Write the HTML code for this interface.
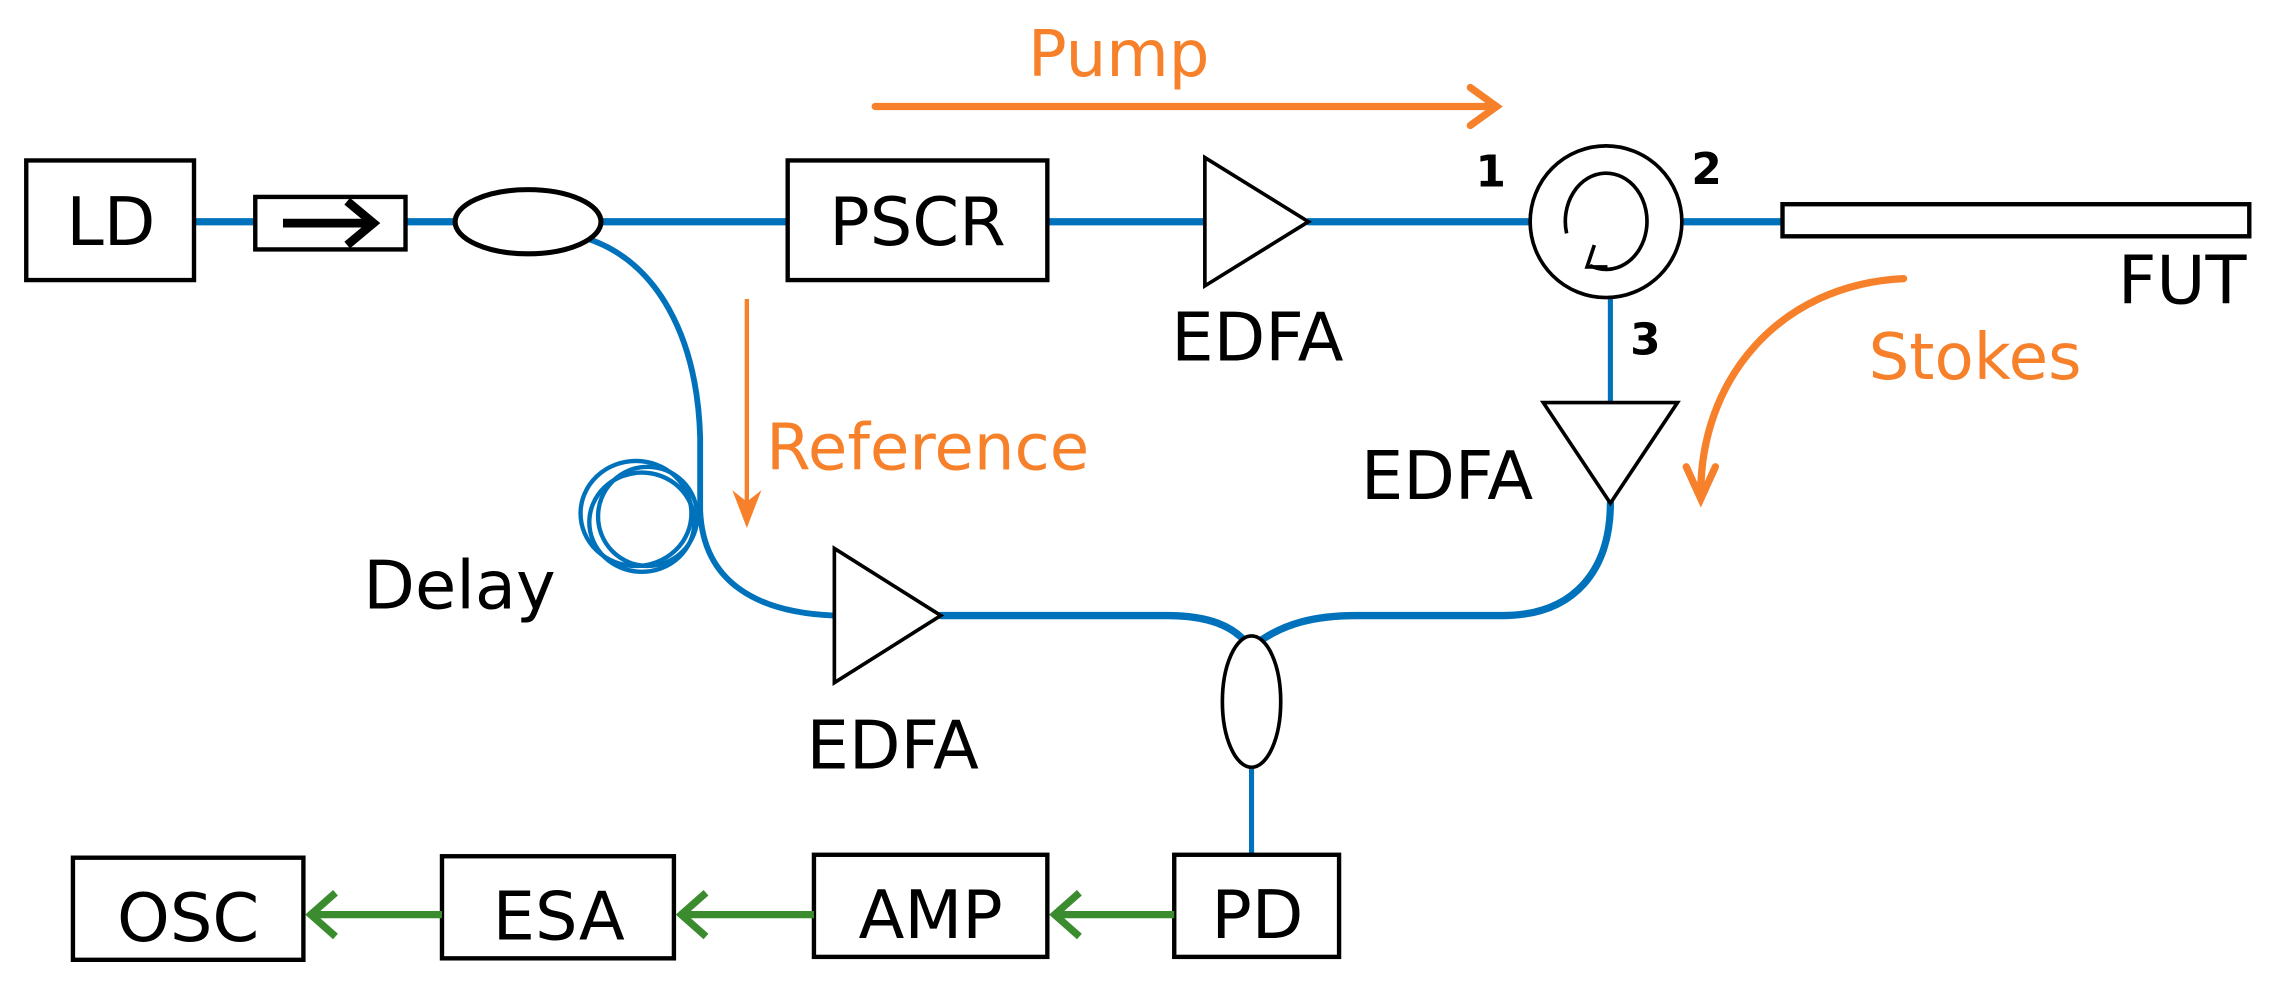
<!DOCTYPE html>
<html><head><meta charset="utf-8"><style>
html,body{margin:0;padding:0;background:#fff;}
svg{display:block;}
text{font-family:"DejaVu Sans","Liberation Sans",sans-serif;}
</style></head><body>
<svg width="2277" height="990" viewBox="0 0 1561 678.7" preserveAspectRatio="none" xmlns="http://www.w3.org/2000/svg">
<g fill="none" stroke="#0072bb" stroke-linecap="round">
  <line x1="133" y1="152" x2="175" y2="152" stroke-width="5"/>
  <line x1="278" y1="152" x2="312" y2="152" stroke-width="5"/>
  <line x1="412" y1="152" x2="540" y2="152" stroke-width="5"/>
  <line x1="718" y1="152" x2="826" y2="152" stroke-width="5"/>
  <line x1="897" y1="152" x2="1048" y2="152" stroke-width="5"/>
  <line x1="1152" y1="152" x2="1222" y2="152" stroke-width="5"/>
  <line x1="1104" y1="205" x2="1104" y2="275" stroke-width="3.5"/>
  <path d="M404,164 C450,180 478,230 480,300 L480,350 C482,400 520,420 572,422" stroke-width="4"/>
  <ellipse cx="436" cy="352" rx="38" ry="36" stroke-width="3"/>
  <ellipse cx="440" cy="358" rx="36" ry="34" stroke-width="3"/>
  <ellipse cx="444" cy="354" rx="34" ry="34" stroke-width="3"/>
  <path d="M645,422 L800,422 C830,422 845,430 854,440" stroke-width="5"/>
  <path d="M863,440 C880,428 900,422 930,422 L1030,422 C1080,422 1104,390 1104,345" stroke-width="5"/>
  <line x1="858" y1="525" x2="858" y2="585" stroke-width="3.5"/>
</g>
<g fill="#fff" stroke="#000" stroke-width="3">
  <rect x="18" y="110" width="115" height="82"/>
  <rect x="175" y="135" width="103" height="36"/>
  <ellipse cx="362" cy="152" rx="50" ry="22" stroke-width="3.5"/>
  <rect x="540" y="110" width="178" height="82"/>
  <polygon points="826,108 897,152 826,196" stroke-width="2.5"/>
  <circle cx="1101" cy="152" r="52" stroke-width="2.5"/>
  <rect x="1222" y="140" width="320" height="22"/>
  <polygon points="1058,276 1150,276 1104,345" stroke-width="2.5"/>
  <polygon points="572,376 645,422 572,468" stroke-width="2.5"/>
  <ellipse cx="858" cy="481" rx="20" ry="45" stroke-width="2.5"/>
  <rect x="805" y="586" width="113" height="70"/>
  <rect x="558" y="586" width="160" height="70"/>
  <rect x="303" y="587" width="159" height="70"/>
  <rect x="50" y="588" width="158" height="70"/>
</g>
<line x1="194" y1="153" x2="255" y2="153" stroke="#000" stroke-width="6"/>
<polyline points="238,138 256,153 238,168" fill="none" stroke="#000" stroke-width="6"/>
<!-- circulator inner arrow -->
<path d="M1074,160 A28,33 0 1 1 1090,182" fill="none" stroke="#000" stroke-width="2.5"/>
<polyline points="1093,168 1088,183 1102,183" fill="none" stroke="#000" stroke-width="2.5"/>
<g fill="none" stroke="#f7812a" stroke-width="5" stroke-linecap="round">
  <line x1="600" y1="73" x2="1026" y2="73"/>
  <polyline points="1008,60 1026,73 1008,86"/>
  <path d="M1305,191 C1220,195 1165,260 1166,340"/>
  <polyline points="1156,320 1166,342 1176,320"/>
</g>
<line x1="512" y1="205" x2="512" y2="350" stroke="#f7812a" stroke-width="3"/>
<polygon points="502,336 512,362 522,336 512,344" fill="#f7812a"/>
<g fill="none" stroke="#3a8c2f" stroke-width="5">
  <line x1="805" y1="627" x2="722" y2="627"/>
  <polyline points="740,612 723,627 740,642"/>
  <line x1="558" y1="627" x2="466" y2="627"/>
  <polyline points="484,612 467,627 484,642"/>
  <line x1="303" y1="627" x2="212" y2="627"/>
  <polyline points="230,612 213,627 230,642"/>
</g>
<g font-size="46" fill="#000" text-anchor="middle">
  <text x="76" y="168">LD</text>
  <text x="629" y="168">PSCR</text>
  <text x="862" y="247">EDFA</text>
  <text x="992" y="342">EDFA</text>
  <text x="612" y="527">EDFA</text>
  <text x="1496" y="208">FUT</text>
  <text x="315" y="417">Delay</text>
  <text x="862" y="643">PD</text>
  <text x="638" y="643">AMP</text>
  <text x="383" y="644">ESA</text>
  <text x="129" y="645">OSC</text>
</g>
<g font-size="30" font-weight="bold" fill="#000" text-anchor="middle">
  <text x="1022" y="128">1</text>
  <text x="1170" y="126">2</text>
  <text x="1128" y="243">3</text>
</g>
<g font-size="44" fill="#f7812a" text-anchor="middle">
  <text x="767" y="52">Pump</text>
  <text x="636" y="322">Reference</text>
  <text x="1354" y="260">Stokes</text>
</g>
</svg>
</body></html>
